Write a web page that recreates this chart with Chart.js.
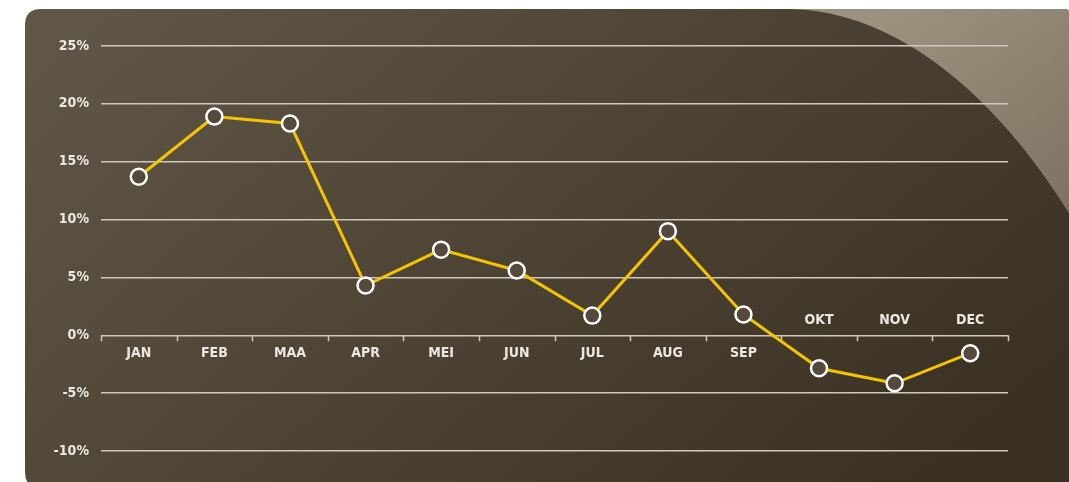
<!DOCTYPE html>
<html>
<head>
<meta charset="utf-8">
<script src="https://cdn.jsdelivr.net/npm/chart.js@4"></script>
<style>
  html, body { margin: 0; padding: 0; background: #fff; }
  #wrap { width: 1069px; height: 482px; }
</style>
</head>
<body>
<div id="wrap"><canvas id="myChart" width="1069" height="482"></canvas></div>
<script>
const months = ["JAN", "FEB", "MAA", "APR", "MEI", "JUN", "JUL", "AUG", "SEP", "OKT", "NOV", "DEC"];
const returns = [13.7, 18.9, 18.3, 4.3, 7.4, 5.6, 1.7, 9.0, 1.8, -2.85, -4.15, -1.55];
const yMin = -10;
const yMax = 25;
const yStep = 5;

const labelFont = '"Liberation Sans Narrow", "DejaVu Sans Condensed", sans-serif';
const ctx = document.getElementById("myChart");

// panel with rounded corner + lighter swoosh top right
const panelBg = {
    id: "panelBg",
    beforeDraw(chart) {
        const c = chart.ctx;
        const w = chart.width;
        c.save();
        const x0 = 25, y0 = 9, r = 16, bottom = 488;
        c.beginPath();
        c.moveTo(x0 + r, y0);
        c.lineTo(w - 4, y0);
        c.quadraticCurveTo(w, y0, w, y0 + 4);
        c.lineTo(w, bottom);
        c.lineTo(x0 + r, bottom);
        c.quadraticCurveTo(x0, bottom, x0, bottom - r);
        c.lineTo(x0, y0 + r);
        c.quadraticCurveTo(x0, y0, x0 + r, y0);
        c.closePath();
        const g = c.createLinearGradient(100, 0, 700, 700);
        g.addColorStop(0, "#605646");
        g.addColorStop(1, "#3a3022");
        c.fillStyle = g;
        c.fill();
        c.clip();

        c.beginPath();
        c.moveTo(790, y0);
        c.bezierCurveTo(900, 11, 1000, 100, 1072, 218);
        c.lineTo(1072, y0);
        c.closePath();
        const g2 = c.createLinearGradient(900, 0, 1069, 220);
        g2.addColorStop(0, "#9d9180");
        g2.addColorStop(1, "#7d7161");
        c.fillStyle = g2;
        c.fill();
        c.restore();
    }
};

// zero axis with ticks and month labels above/below
const zeroAxis = {
    id: "zeroAxis",
    beforeDatasetsDraw(chart) {
        const c = chart.ctx;
        const xs = chart.scales.x;
        const ys = chart.scales.y;
        const y0 = ys.getPixelForValue(0);
        const step = (chart.chartArea.right - chart.chartArea.left) / months.length;
        c.save();
        c.strokeStyle = "#cfc8bd";
        c.lineWidth = 1.5;
        c.beginPath();
        for (let i = 0; i <= months.length; i++) {
            const x = Math.round(chart.chartArea.left + i * step) + 0.5;
            c.moveTo(x, y0);
            c.lineTo(x, y0 + 6);
        }
        c.stroke();
        c.fillStyle = "#ece8e1";
        c.font = "bold 14px " + labelFont;
        c.textAlign = "center";
        c.textBaseline = "middle";
        months.forEach((m, i) => {
            const x = xs.getPixelForValue(i);
            const y = returns[i] >= 0 ? y0 + 18 : y0 - 15;
            c.fillText(m, x, y);
        });
        c.restore();
    }
};

const myChart = new Chart(ctx, {
    type: "line",
    data: {
        labels: months,
        datasets: [{
            data: returns,
            borderColor: "#f5c400",
            borderWidth: 3,
            tension: 0,
            pointRadius: 8,
            pointHoverRadius: 8,
            pointBorderWidth: 2.5,
            pointBorderColor: "#ffffff",
            pointBackgroundColor: "#54493a",
        }],
    },
    options: {
        responsive: false,
        animation: false,
        layout: { padding: { top: 46, bottom: 31, right: 61, left: 0 } },
        plugins: { legend: { display: false }, tooltip: { enabled: false } },
        scales: {
            x: {
                display: false,
                offset: true,
            },
            y: {
                min: yMin,
                max: yMax,
                afterFit(scale) { scale.width = 101; },
                border: { display: false },
                grid: { color: "#cfc8bd", lineWidth: 1.5, drawTicks: false },
                ticks: {
                    stepSize: yStep,
                    padding: 12,
                    color: "#ece8e1",
                    font: { family: labelFont, size: 14, weight: "bold" },
                    callback: (v) => v + "%",
                },
            },
        },
    },
    plugins: [panelBg, zeroAxis],
});
</script>
</body>
</html>
